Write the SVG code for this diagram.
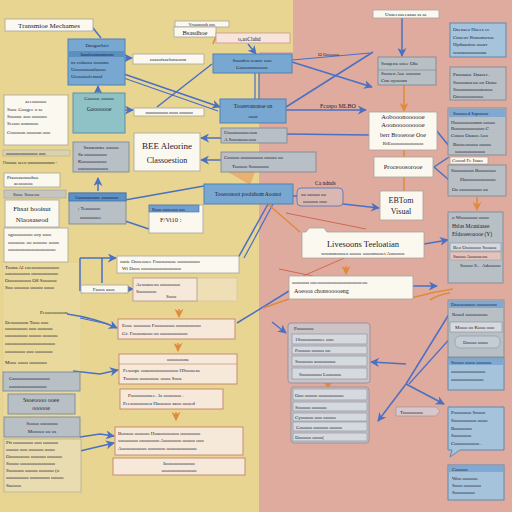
<svg xmlns="http://www.w3.org/2000/svg" width="512" height="512" viewBox="0 0 512 512">
<defs>
<style>
.t{font-family:"Liberation Serif","DejaVu Serif",serif;fill:#1a2233;font-size:5px}
.m{text-anchor:middle}
.wh{fill:#fbf8f0;stroke:#a8a39a;stroke-width:0.8}
.bl{fill:#78a8d2;stroke:#4f82b3;stroke-width:1}
.gr{fill:#b8c0c6;stroke:#7f8b96;stroke-width:0.9}
.tl{fill:#8ec2c6;stroke:#5d8fa8;stroke-width:1}
.cr{fill:#f6e9da;stroke:#c5836a;stroke-width:0.9}
.rb{fill:#a6c3dc;stroke:#5f88b0;stroke-width:1}
.hd{fill:#7fa9d2;stroke:none}
.pn{fill:#cbc3c6;stroke:#998d9a;stroke-width:0.9}
.row{fill:#d6dadf;stroke:#8c96a2;stroke-width:0.7}
.c{stroke:#4a70c4;stroke-width:1.5;fill:none}
.cd{stroke:#4a70c4;stroke-width:1.2;fill:none}
.o{stroke:#e08a3c;stroke-width:1.5;fill:none}
.r{stroke:#d0604a;stroke-width:0.9;fill:none}
</style>
<marker id="ab" viewBox="0 0 10 10" refX="9" refY="5" markerWidth="6" markerHeight="6" orient="auto"><path d="M0 0L10 5L0 10L3 5Z" fill="#4a70c4"/></marker>
<marker id="ao" viewBox="0 0 10 10" refX="9" refY="5" markerWidth="6" markerHeight="6" orient="auto"><path d="M0 0L10 5L0 10L3 5Z" fill="#e08a3c"/></marker>
</defs>
<rect width="512" height="512" fill="#dfab9f"/>
<path d="M0 0H293V52H259V512H0Z" fill="#e8d592"/>
<rect x="3" y="262" width="78" height="232" fill="#efe2b0" opacity="0.35" stroke="#c8bc98" stroke-width="0.4"/>

<g id="connectors">
<path class="c" d="M93 28L101 38"/>
<path class="c" d="M125 58H132" marker-end="url(#ab)"/>
<path class="c" d="M118 72L220 107" marker-end="url(#ab)"/>
<path class="cd" d="M118 76L218 111"/>
<path class="c" d="M212 64L157 107"/>
<path class="c" d="M125 110H133" marker-end="url(#ab)"/>
<path class="c" d="M98 93V86" marker-end="url(#ab)"/>
<path class="c" d="M248 44L256 54" marker-end="url(#ab)"/>
<path class="cd" d="M255 73V99M259 73V99"/>
<path class="c" d="M292 62L372 87" marker-end="url(#ab)"/>
<path class="cd" d="M292 60L370 53"/>
<path class="c" d="M286 107L373 52"/>
<path class="c" d="M286 110H366" marker-end="url(#ab)"/>
<path class="c" d="M286 134L369 135"/>
<path class="c" d="M402 18V56" marker-end="url(#ab)"/>
<path class="o" d="M404 85V111" marker-end="url(#ao)"/>
<path class="o" d="M404 150V157"/>
<path class="o" d="M404 177V191"/>
<path class="c" d="M221 138H201" marker-end="url(#ab)"/>
<path class="c" d="M221 160H201" marker-end="url(#ab)"/>
<path class="c" d="M125 200L204 186"/>
<path class="c" d="M125 221L149 229"/>
<path class="c" d="M98 191V178" marker-end="url(#ab)"/>
<path class="c" d="M293 196H297"/>
<path class="c" d="M343 204L379 208" marker-end="url(#ab)"/>
<path class="c" d="M436 130L449 146"/>
<path class="c" d="M434 167L449 157"/>
<path class="c" d="M434 167L449 180"/>
<path class="c" d="M424 244L448 240" marker-end="url(#ab)"/>
<path class="c" d="M268 204L238 258"/>
<path class="cd" d="M273 204L244 258"/>
<path class="r" d="M286 213L366 229"/>
<path class="o" d="M262 199L300 232"/>
<path class="c" d="M80 258H116" marker-end="url(#ab)"/>
<path class="c" d="M80 258V291M102 258V283"/>
<path class="c" d="M128 289H133" marker-end="url(#ab)"/>
<path class="c" d="M67 314Q95 318 117 328" marker-end="url(#ab)"/>
<path class="cd" d="M80 318L108 324"/>
<path class="c" d="M237 323L289 291"/>
<path class="c" d="M73 371L100 374L118 370" marker-end="url(#ab)"/>
<path class="c" d="M80 437L100 434L114 436" marker-end="url(#ab)"/>
<path class="c" d="M80 451L114 443" marker-end="url(#ab)"/>
<path class="c" d="M451 311L406 384"/>
<path class="cd" d="M454 334L409 384"/>
<path class="c" d="M406 384L378 421" marker-end="url(#ab)"/>
<path class="c" d="M406 384L444 404" marker-end="url(#ab)"/>
<path class="c" d="M406 364L371 362" marker-end="url(#ab)"/>
<path class="c" d="M272 322L286 333" marker-end="url(#ab)"/>
<path class="c" d="M413 286H437" marker-end="url(#ab)"/>
<path class="o" d="M263 308L289 299"/>
<path class="o" d="M411 298Q432 292 453 289"/>
<path class="o" d="M430 300Q440 294 450 293"/>
<path class="o" d="M477 197V210" marker-end="url(#ao)"/>
<path class="o" d="M179 309V317" marker-end="url(#ao)"/>
<path class="o" d="M178 343V351" marker-end="url(#ao)"/>
<path class="o" d="M176 412V420" marker-end="url(#ao)"/>
<path class="o" d="M328 380V389" marker-end="url(#ao)"/>
<path class="o" d="M346 266V274" marker-end="url(#ao)"/>
<path class="o" d="M213 44L216 36"/>
<path class="r" d="M279 269L313 276M303 276L349 256"/>
<path d="M228 172H255L250 185Z" fill="#e8995a" opacity="0.6"/>
</g>

<g id="n-title"><rect class="wh" x="5" y="19" width="88" height="12"/><text class="t m" x="49" y="28" style="font-size:7px">Transmioe Mechames</text></g>
<g id="n-dau"><rect class="bl" x="68" y="39" width="57" height="46"/><rect x="69" y="51" width="55" height="6" fill="#5b8fc0"/>
<text class="t m" x="97" y="47">Dauguchiet</text><text class="t m" x="97" y="56" style="font-size:4.5px">Iaonlsoomnnoorm</text>
<text class="t" x="71" y="64">ns coluoos tooomo</text><text class="t" x="71" y="71">Uoooonooalaooo</text><text class="t" x="71" y="78">Ucoooaolemsnl</text></g>
<g id="n-lab1"><rect class="wh" x="133" y="54" width="71" height="10"/><text class="t m" x="168" y="61">soasofsaclonsoom</text></g>
<g id="n-lab2"><rect class="wh" x="175" y="21" width="54" height="6"/><text class="t m" x="202" y="26" style="font-size:4.5px">Vrsaonooh ooe</text>
<rect class="wh" x="174" y="27" width="42" height="10"/><text class="t m" x="195" y="35" style="font-size:6.5px">Bsasdhoe</text></g>
<g id="n-pink"><rect x="216" y="33" width="74" height="10" fill="#f8e4dc" stroke="#c79a8a" stroke-width="0.8"/><text class="t" x="238" y="41" style="font-size:5.5px">o,aoClahd</text></g>
<g id="n-ssao"><rect class="bl" x="213" y="54" width="79" height="19"/><text class="t m" x="252" y="62">Ssaoden seaaw ooo</text><text class="t m" x="252" y="69">Gsaoonnaooooe</text></g>
<g id="n-toes"><rect class="bl" x="220" y="99" width="66" height="24"/><text class="t m" x="253" y="108" style="font-size:5.5px">Tooesvanonoe on</text><text class="t m" x="253" y="118">ooor</text></g>
<g id="n-uoo"><rect class="gr" x="221" y="128" width="66" height="15"/><text class="t" x="224" y="134">Uooonooaoeoon</text><text class="t" x="224" y="141">A Sooonooeooo</text></g>
<g id="n-coo"><rect class="gr" x="221" y="152" width="95" height="20"/><text class="t" x="224" y="159">Coosoo ooooooooo ooooo oo</text><text class="t" x="232" y="168">Tooooo Sooooooo</text></g>
<g id="n-bee"><rect class="wh" x="134" y="133" width="66" height="38"/><text class="t m" x="167" y="149" style="font-size:9px">BEE Aleorine</text><text class="t m" x="167" y="163" style="font-size:8px">Classoestion</text></g>
<g id="n-teal"><rect class="tl" x="73" y="93" width="52" height="40"/><text class="t m" x="99" y="100">Gaoooe ooooo</text><text class="t m" x="99" y="111" style="font-size:6px">Gaoooooe</text></g>
<g id="n-wl1"><rect class="wh" x="4" y="95" width="64" height="50"/><text class="t m" x="36" y="103">aeeoooooe</text><text class="t" x="7" y="111">Sooe Goagee o se</text><text class="t" x="7" y="118">Sooone aoo oooooo</text><text class="t" x="7" y="125">Seooo oonnooo</text><text class="t" x="7" y="134">Cooooon ooooon ooo</text></g>
<g id="n-lab3"><rect class="wh" x="134" y="108" width="70" height="8"/><text class="t m" x="169" y="114" style="font-size:4.5px">oooooooooo oooo oooooo</text></g>
<g id="n-sas"><rect class="gr" x="73" y="142" width="56" height="30"/><text class="t m" x="101" y="149">Sasmorme ooooo</text><text class="t" x="78" y="156">Sa ooooooooo</text><text class="t" x="78" y="163">Koooooooooo</text><text class="t" x="78" y="170">oooooooooooo</text></g>
<g id="n-strip"><rect x="3" y="150" width="67" height="6" fill="#d9d3b0" stroke="#a8a288" stroke-width="0.5"/><text class="t" x="6" y="155" style="font-size:4.5px">oooooooooooooo ooo</text><text class="t" x="3" y="164" style="font-size:4.5px">Oooaoe aeeo oooooooooooo -</text></g>
<g id="n-pta"><rect class="wh" x="4" y="173" width="56" height="14"/><text class="t" x="7" y="179">Ptaoossoasohoe</text><text class="t" x="14" y="185">aeoooooe</text>
<rect x="4" y="190" width="62" height="8" fill="#c5c6bf" stroke="#999" stroke-width="0.5"/><text class="t" x="13" y="196">Sooe Sooeoo</text></g>
<g id="n-fhs"><rect class="wh" x="5" y="200" width="54" height="27"/><text class="t m" x="32" y="211" style="font-size:7px">Fhsat hooisut</text><text class="t m" x="32" y="222" style="font-size:7px">Nlaosaseod</text></g>
<g id="n-wl2"><rect class="wh" x="4" y="228" width="64" height="34"/><text class="t" x="8" y="236">sgoooooooo ooy sooe</text><text class="t" x="8" y="244">ooooooe oo oooooe ooon</text><text class="t" x="8" y="251">ooooooooooooooooooo</text></g>
<g id="n-gao"><rect class="gr" x="69" y="193" width="57" height="31" fill="#b5c0c8"/><rect x="69" y="193" width="57" height="8" fill="#5b90c8" stroke="#3f73ad" stroke-width="0.8"/><text class="t m" x="97" y="199" style="font-size:4.5px">Gaoooaooooe aaoooooe</text><text class="t" x="78" y="210">; Teaooooo</text><text class="t" x="80" y="219">sooooooee</text></g>
<g id="n-roso"><rect class="wh" x="149" y="205" width="54" height="28"/><rect x="149" y="205" width="50" height="7" fill="#6f9fd0" stroke="#3f73ad" stroke-width="0.6"/><text class="t" x="152" y="211" style="font-size:4.5px">Roso oooeooo ooe</text><text class="t" x="160" y="222" style="font-size:6.5px">F/Vi10 :</text></g>
<g id="n-bar"><rect class="bl" x="204" y="184" width="89" height="20"/><text class="t m" x="248" y="196" style="font-size:5.5px">Tooeoosoot poolahom Aoonot</text></g>

<g id="n-toplab"><rect class="wh" x="373" y="10" width="66" height="8"/><text class="t m" x="406" y="16">Unaeeoaeeaaao ss ae</text></g>
<g id="n-r1"><rect class="rb" x="450" y="23" width="56" height="34"/><text class="t" x="453" y="31">Oseuseo Hoees ee</text><text class="t" x="453" y="39">Cnoeuv Rnnomoxoe</text><text class="t" x="453" y="46">Hyduaotoo ooorr</text><text class="t" x="453" y="54">woonooooooona</text></g>
<g id="n-r2"><rect class="gr" x="450" y="67" width="56" height="33"/><text class="t" x="453" y="76">Pnsoaaoe Daaoer .</text><text class="t" x="453" y="84">Soooonoeoo oo Oono</text><text class="t" x="453" y="91">Sooononoooonoooe</text><text class="t" x="453" y="98">Oooooooooooe</text></g>
<g id="n-r3"><rect class="gr" x="448" y="108" width="58" height="47" fill="#aebdca"/><rect class="hd" x="449" y="109" width="56" height="8"/><text class="t" x="453" y="115">Sooaoed Inpuooo</text><text class="t" x="451" y="124">Hoooooooonnn ooooe</text><text class="t" x="451" y="130">Roooooooooooo C</text><text class="t" x="451" y="137">Coaoo Oaaoo Aoo</text><text class="t" x="453" y="146">Bsooeooooo ooooe</text><text class="t" x="455" y="153">oooooooooooo</text></g>
<g id="n-r3b"><rect class="wh" x="450" y="157" width="38" height="7" fill="#e8dcd4"/><text class="t" x="452" y="162">Coood Fe Itaao</text></g>
<g id="n-r4"><rect class="gr" x="448" y="165" width="58" height="31" fill="#aebdca"/><text class="t" x="451" y="172">Sooooooon Booooooo</text><text class="t" x="460" y="181">Eboooooooooooo</text><text class="t" x="452" y="191">Oo ooooooooo oo</text></g>
<g id="n-r5"><rect class="gr" x="448" y="212" width="55" height="71" fill="#aebdca"/><text class="t" x="452" y="219">o Wooooooo oooo</text><text class="t" x="452" y="228" style="font-size:5.5px">Hslas Mcaniaaee</text><text class="t" x="452" y="236" style="font-size:5.5px">Efdaoeeoaooe (Y)</text>
<rect class="row" x="450" y="243" width="51" height="8"/><text class="t" x="453" y="249">Beo Ooooooo Sooaoe</text><rect x="450" y="252" width="51" height="8" fill="#e4c2bd" stroke="#a98" stroke-width="0.6"/><text class="t" x="453" y="258">Saooo Aooooeoo</text><text class="t" x="460" y="267">Soooo S..</text><text class="t" x="482" y="267">Adooooo</text></g>
<g id="n-r6"><rect class="gr" x="448" y="300" width="56" height="57" fill="#b2c3d2"/><rect class="hd" x="449" y="301" width="54" height="7"/><text class="t" x="451" y="306">Dsaosonaoo ooooooon</text><text class="t" x="452" y="316">Roool soooooooo</text><rect class="row" x="450" y="322" width="52" height="10"/><text class="t" x="455" y="329">Mooo oo Kooo ooo</text><rect x="455" y="336" width="45" height="12" rx="5" fill="#c4ccd4" stroke="#8c96a2" stroke-width="0.6"/><text class="t" x="463" y="344">Doooo oooo</text></g>
<g id="n-r7"><rect class="rb" x="448" y="358" width="56" height="32"/><rect class="hd" x="449" y="359" width="54" height="6"/><text class="t" x="451" y="364">Soooo oooo oooooo</text><text class="t" x="451" y="373">oooooooooooooe</text><text class="t" x="451" y="381">ooooooooooooo</text></g>
<g id="n-r8"><path d="M448 407H504V450H460L450 457L452 450H448Z" fill="#a6c3dc" stroke="#5f88b0"/><text class="t" x="451" y="414">Pooooooo Soooo</text><text class="t" x="451" y="422">Sooooooooo oooo</text><text class="t" x="451" y="430">Booooooo</text><text class="t" x="451" y="437">Sooooooo</text><text class="t" x="451" y="445">Coooooooooo .</text></g>
<g id="n-r9"><rect class="rb" x="448" y="465" width="56" height="35"/><rect class="hd" x="449" y="466" width="54" height="6"/><text class="t" x="452" y="471">Cooooo</text><text class="t" x="452" y="480">Woo oooooo</text><text class="t" x="452" y="487">Sooo ooooooo</text><text class="t" x="452" y="494">Soooooooo</text></g>

<g id="n-sos"><rect class="gr" x="378" y="57" width="58" height="28"/><path d="M378 70H436" stroke="#7f8b96" stroke-width="0.7"/><text class="t" x="381" y="65">Sosqeno ooee Ohe</text><text class="t" x="381" y="75">Soosen Aoe oooooc</text><text class="t" x="381" y="82">Cnn oyooom</text></g>
<g id="n-adv"><rect class="wh" x="369" y="112" width="68" height="38"/><text class="t m" x="403" y="119" style="font-size:6.5px">Aobooonoooooe</text><text class="t m" x="403" y="127" style="font-size:6.5px">Aoonooooooooe</text><text class="t m" x="403" y="137" style="font-size:6px">berr Brooeooe Ooe</text><text class="t m" x="403" y="145">RfEooooooooooooo</text></g>
<g id="n-proc"><rect class="wh" x="374" y="157" width="59" height="20"/><text class="t m" x="403" y="169" style="font-size:6.5px">Proceoosorooe</text></g>
<g id="n-ebt"><rect class="wh" x="380" y="191" width="43" height="29"/><text class="t m" x="401" y="203" style="font-size:8px">EBTom</text><text class="t m" x="401" y="214" style="font-size:8px">Visual</text></g>
<g id="n-liv"><path d="M302 258V232H306L309 228H324L327 232H424V258Z" fill="#fbf8f0" stroke="#a8a39a" stroke-width="0.8"/><text class="t m" x="363" y="247" style="font-size:8.5px">Livesoons Teeloatian</text><text class="t m" x="363" y="255">woonmoooeo ooooe oooomooet Auooooe</text></g>
<g id="n-chip"><rect x="297" y="188" width="46" height="18" rx="4" fill="#d9b8b2" stroke="#4a70c4" stroke-width="0.8"/><text class="t" x="301" y="196">oo ooooo oo</text><text class="t" x="303" y="203">oooooo ooo</text></g>
<g id="n-labs"><text class="t" x="315" y="185" style="font-size:5.5px">Ca ndnds</text><text class="t" x="320" y="108" style="font-size:6px">Fcaspo MLBO</text><text class="t" x="318" y="56">Ω Oooooo</text></g>

<g id="n-ltxt"><text class="t" x="5" y="269">Toona Al eoeooooooooooo</text><text class="t" x="5" y="275">oooooooooo ooooooooooe</text><text class="t" x="5" y="282">Oooooooooo O8 Soooooe</text><text class="t" x="5" y="289">Soo oooooo ooooo oooo</text>
<text class="t" x="40" y="314">Peoooooooon</text>
<text class="t" x="5" y="324">Deoooooon Taoo ooo</text><text class="t" x="5" y="330">ooooooooo ooo oooooo</text><text class="t" x="5" y="337">ooooooooo ooooo oooooo</text><text class="t" x="5" y="345">oooooooooooooooooooo</text><text class="t" x="5" y="353">oooooooo ooo ooooooo</text><text class="t" x="5" y="364">Mooe oooo ooooooo</text></g>
<g id="n-faoo"><rect class="wh" x="81" y="285" width="47" height="8"/><text class="t m" x="104" y="291">Faoos aaoe</text></g>
<g id="n-gaol"><rect class="gr" x="3" y="372" width="77" height="19" fill="#c0c8c8"/><text class="t" x="9" y="380">Gaoooooooooooooo</text><text class="t" x="9" y="388">ooooooooooooooo</text></g>
<g id="n-ssoe"><rect class="gr" x="8" y="394" width="67" height="20" fill="#c5c9c7"/><text class="t m" x="41" y="402" style="font-size:6px">Ssoeoooo ooee</text><text class="t m" x="41" y="410" style="font-size:6px">oooooe</text></g>
<g id="n-sooo"><rect class="gr" x="4" y="417" width="76" height="20" fill="#c3c8c9"/><text class="t m" x="42" y="425">Soooo ooooooo</text><text class="t m" x="42" y="433">Moooeo oo os</text></g>
<g id="n-lblk"><rect x="4" y="439" width="77" height="53" fill="#e9dcb0" stroke="#a8a288" stroke-width="0.6"/><text class="t" x="6" y="444">Pft oooooooo ooo oooooo</text><text class="t" x="6" y="451">ooooo ooo oooooo oooo</text><text class="t" x="6" y="458">Ooooooooo oooooo oooooo</text><text class="t" x="6" y="465">Soooo oooooooooooooo</text><text class="t" x="6" y="472">Soooooo ooooo oooooo (o</text><text class="t" x="6" y="479">ooooooooo oooooooo ooooo</text><text class="t" x="6" y="487">Saoooo</text></g>

<g id="n-ssn"><rect class="wh" x="117" y="256" width="122" height="17"/><text class="t" x="120" y="263">ssnie Oooeooee Fosososooe ooooooooo</text><text class="t" x="122" y="270">Wi Doos oooooooooooooooo</text></g>
<g id="n-aeo"><rect x="133" y="278" width="104" height="23" fill="#f3e6cf" opacity="0.6" stroke="#c9b8a0" stroke-width="0.6"/><rect class="cr" x="133" y="278" width="64" height="23" style="stroke:#b5a090"/><text class="t" x="136" y="286">Aeooaoeoo oooooooo</text><text class="t" x="136" y="293">Sooooooo</text><text class="t" x="166" y="298">Sooo</text></g>
<g id="n-eoo"><rect class="cr" x="118" y="319" width="117" height="20"/><text class="t" x="122" y="327">Eooe oooooos Foooooooo oooooooooo</text><text class="t" x="122" y="335">Gi: Foooonooo oo ooooooooooo</text></g>
<g id="n-fes"><rect class="cr" x="119" y="354" width="118" height="30"/><path d="M119 364H237" stroke="#c5836a" stroke-width="0.6"/><text class="t m" x="178" y="361">ooooooone</text><text class="t" x="123" y="372">Fesoope ooaoooooooooooo HSoooeas</text><text class="t" x="123" y="380">Tooooo oooooooe oooo Soos</text></g>
<g id="n-poo"><rect class="cr" x="120" y="389" width="103" height="20"/><text class="t" x="128" y="397">Pooooooonee. 3s ooooooo .</text><text class="t" x="123" y="405">Peesooooooen Haosooo saoo oooed</text></g>
<g id="n-boo"><rect class="cr" x="115" y="427" width="128" height="28"/><text class="t" x="118" y="435">Boosoo oooooo Hoaoooooooo oooooooo</text><text class="t" x="118" y="442">oooooooo oooooooo Aooooooo ooooo ooo</text><text class="t" x="118" y="450">Aoooooooooo ooooooo oooooooooooo</text></g>
<g id="n-ioo"><rect class="cr" x="113" y="458" width="132" height="17" fill="#f2e0d4"/><text class="t m" x="179" y="465">Ioooooooooooo</text><text class="t m" x="179" y="472">oooooooooooooo</text></g>

<g id="n-soo"><rect class="wh" x="289" y="276" width="124" height="23"/><text class="t" x="292" y="284">sooooon ooeoooooooooooooooooeoo</text><text class="t" x="294" y="293" style="font-size:6px">Aoeooa chonsooooeng</text></g>
<g id="n-p1"><rect class="pn" x="288" y="323" width="82" height="60" rx="3"/><text class="t" x="294" y="330">Pooooooe</text>
<rect class="row" x="292" y="334" width="75" height="10"/><text class="t" x="295" y="341">1Sooooooooee ooo</text>
<rect class="row" x="292" y="346" width="75" height="8"/><text class="t" x="295" y="352">Pooooo ooooo oo</text>
<rect class="row" x="292" y="356" width="75" height="10"/><text class="t" x="295" y="363">Soooooo aoooooooe</text>
<rect class="row" x="292" y="368" width="75" height="11"/><text class="t" x="299" y="376">Soooooooo Loooooo</text></g>
<g id="n-p2"><rect class="pn" x="291" y="387" width="78" height="56" rx="3"/>
<rect class="row" x="293" y="389" width="74" height="11"/><text class="t" x="295" y="397">Ooo ooooo oooooooooo</text>
<rect class="row" x="293" y="402" width="74" height="9"/><text class="t" x="295" y="409">Sooooo oooooo</text>
<rect class="row" x="293" y="413" width="74" height="8"/><text class="t" x="295" y="419">Cyooooo ooo ooooo</text>
<rect class="row" x="293" y="422" width="74" height="9"/><text class="t" x="296" y="429">Gooooo oooooo ooooo</text>
<rect class="row" x="293" y="433" width="74" height="8"/><text class="t" x="295" y="439">Dooooo oooo(</text></g>
<g id="n-too"><path d="M396 407H436L440 411L436 416H396Z" fill="#d8c6c8" stroke="#8c96a2" stroke-width="0.6"/><text class="t" x="400" y="414">Toooooooo</text></g>
</svg>
